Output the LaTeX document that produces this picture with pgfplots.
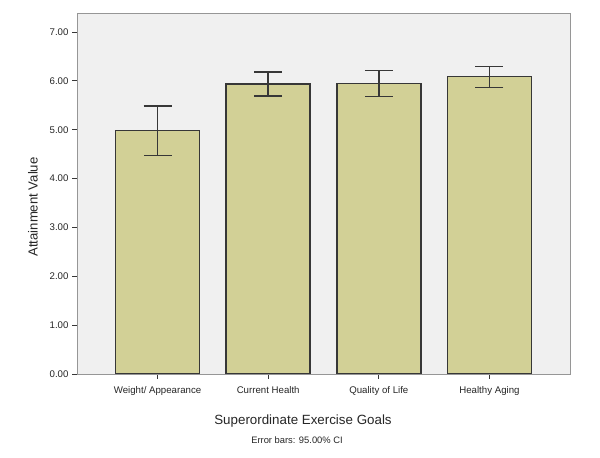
\documentclass[border=0pt]{standalone}
\usepackage{pgfplots}
\pgfplotsset{compat=1.18}
\usepackage{pgfplotstable}
\usepackage{fontspec}
\setmainfont{Liberation Sans}
\definecolor{barfill}{RGB}{210,208,150}
\definecolor{baredge}{RGB}{55,55,55}
\definecolor{plotbg}{RGB}{240,240,240}
\definecolor{frame}{RGB}{150,150,150}
\pgfplotstableread{
x y ep em
0 4.98 0.51 0.51
1 5.94 0.24 0.25
2 5.95 0.26 0.27
3 6.09 0.21 0.23
}\datatable
\begin{document}
\begin{tikzpicture}
\path[fill=white] (0,0) rectangle (600bp,458bp);
\begin{axis}[
  at={(77bp,84bp)}, anchor=south west,
  scale only axis, width=493bp, height=360bp,
  xmin=-0.728, xmax=3.728, ymin=0, ymax=7.37,
  axis background/.style={fill=plotbg},
  axis line style={frame, line width=1pt},
  xtick=data,
  xticklabels={Weight/ Appearance, Current Health, Quality of Life, Healthy Aging},
  ytick={0,1,2,3,4,5,6,7},
  yticklabel={\pgfmathprintnumber[fixed, fixed zerofill, precision=2, assume math mode=true]{\tick}},
  xtick pos=left, ytick pos=left,
  tick align=outside, major tick length=5bp,
  tick style={baredge, line width=1pt},
  ticklabel style={font=\fontsize{9.7}{11}\selectfont, text=black!85},
  xticklabel style={yshift=-4bp},
  ybar, bar width=84bp,
]
\addplot[fill=barfill, draw=baredge, line width=1.4pt,
  error bars/.cd, y dir=both, y explicit,
  error bar style={baredge, line width=1.4pt},
  error mark options={rotate=90, baredge, line width=1.4pt, mark size=14bp}]
  table[x=x, y=y, y error plus=ep, y error minus=em] {\datatable};
\end{axis}
\node[rotate=90, font=\fontsize{13.2}{15}\selectfont, text=black!85] at (33bp,251bp) {Attainment Value};
\node[font=\fontsize{13.4}{15}\selectfont, text=black!85] at (303bp,37bp) {Superordinate Exercise Goals};
\node[font=\fontsize{9.4}{11}\selectfont, text=black!85] at (297bp,18bp) {Error bars: 95.00\% CI};
\end{tikzpicture}
\end{document}
